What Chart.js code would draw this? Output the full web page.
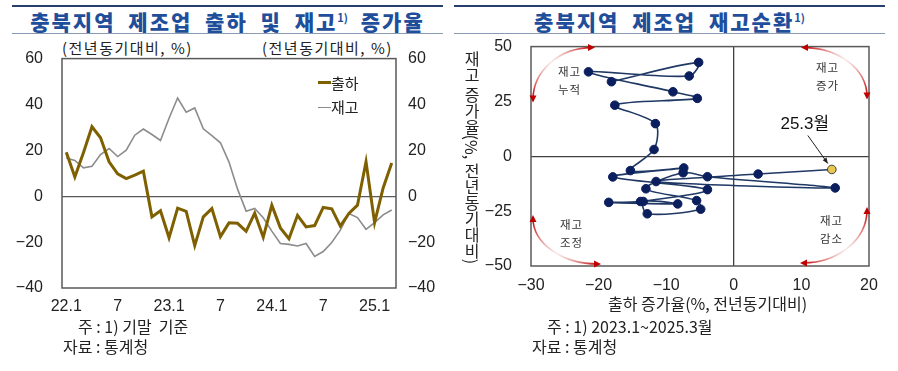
<!DOCTYPE html>
<html>
<head>
<meta charset="utf-8">
<script src="https://cdn.jsdelivr.net/npm/chart.js@4.4.1/dist/chart.umd.min.js"></script>
<style>
  body { margin: 0; width: 898px; height: 371px; background: #fff; position: relative; overflow: hidden;
         font-family: "Noto Sans CJK KR", "Liberation Sans", sans-serif; color: #222; }
  .abs { position: absolute; white-space: pre; }
  .rule { position: absolute; width: 431px; }
  .title { position: absolute; top: 3px; width: 431px; height: 28px; line-height: 28px; text-align: center;
           font-size: 21px; font-weight: 900; color: #1F4E9B; letter-spacing: 2px; word-spacing: 6px; white-space: nowrap; }
  .title sup { font-size: 11px; vertical-align: 8px; letter-spacing: 0; font-weight: 700; }
  .unit { font-size: 15px; top: 39px; line-height: 18px; letter-spacing: 1.5px; }
  .note { font-size: 16px; line-height: 20px; }
  .quad { font-size: 11.5px; line-height: 18px; color: #333; letter-spacing: 1px; text-align: center; }
  canvas { position: absolute; }
</style>
</head>
<body>

<div class="rule" style="left:12px;top:5px;border-top:2px solid #27406b"></div>
<div class="rule" style="left:12px;top:33px;border-top:1px solid #8a9bb5"></div>
<div class="rule" style="left:454px;top:5px;border-top:2px solid #27406b"></div>
<div class="rule" style="left:454px;top:33px;border-top:1px solid #8a9bb5"></div>

<div class="title" style="left:12px">충북지역 제조업 출하 및 재고<sup>1)</sup> 증가율</div>
<div class="title" style="left:454px">충북지역 제조업 재고순환<sup>1)</sup></div>

<div class="abs unit" style="left:62px">(전년동기대비, %)</div>
<div class="abs unit" style="left:262px">(전년동기대비, %)</div>

<!-- chart area of both canvases ends up 29px below the canvas top -->
<canvas id="lineChart" width="450" height="290" style="left:0;top:30px"></canvas>
<canvas id="cycleChart" width="448" height="302" style="left:450px;top:18px"></canvas>

<div class="abs" style="left:318px;top:73px;font-size:15px;line-height:20px"><span style="display:inline-block;width:13px;height:3px;background:#7F6000;vertical-align:5px"></span>출하</div>
<div class="abs" style="left:318px;top:97px;font-size:15px;line-height:20px"><span style="display:inline-block;width:13px;height:1.5px;background:#8C8C8C;vertical-align:5px"></span>재고</div>

<div class="abs note" style="left:78px;top:316px">주 : 1) 기말  기준</div>
<div class="abs note" style="left:63px;top:336px">자료 : 통계청</div>

<div class="abs" style="left:460px;top:51px;font-size:16px;writing-mode:vertical-rl;text-orientation:mixed">재고 증가율(%, 전년동기대비)</div>
<div class="abs note" style="left:608px;top:293px">출하 증가율(%, 전년동기대비)</div>
<div class="abs note" style="left:547px;top:316px">주 : 1) 2023.1~2025.3월</div>
<div class="abs note" style="left:532px;top:336px">자료 : 통계청</div>

<div class="abs quad" style="left:558px;top:62px">재고<br>누적</div>
<div class="abs quad" style="left:816px;top:58px">재고<br>증가</div>
<div class="abs quad" style="left:560px;top:215px">재고<br>조정</div>
<div class="abs quad" style="left:820px;top:211px">재고<br>감소</div>

<script>
// monthly periods, 2022.1 ~ 2025.3
const periods = [
  '22.1','22.2','22.3','22.4','22.5','22.6','22.7','22.8','22.9','22.10','22.11','22.12',
  '23.1','23.2','23.3','23.4','23.5','23.6','23.7','23.8','23.9','23.10','23.11','23.12',
  '24.1','24.2','24.3','24.4','24.5','24.6','24.7','24.8','24.9','24.10','24.11','24.12',
  '25.1','25.2','25.3'
];
// 출하 증가율 (%, 전년동기대비)
const shipment = [
  19.2, 8.4, 19.0, 30.3, 25.5, 15.0, 9.8, 7.7, 9.2, 10.9, -9.0, -6.3,
  -18.1, -5.2, -6.6, -21.5, -9.0, -5.4, -17.6, -11.6, -11.8, -15.3, -7.4, -17.9,
  -3.9, -13.8, -18.5, -8.3, -13.4, -12.8, -4.9, -5.5, -13.0, -7.5, -3.9, 15.0,
  -11.5, 3.6, 14.5
];
// 재고 증가율 (%, 전년동기대비)
const inventory = [
  16.7, 15.6, 12.4, 13.1, 18.2, 20.8, 17.3, 20.1, 26.6, 29.3, 26.9, 24.3,
  34.0, 42.8, 36.6, 38.5, 29.4, 26.4, 23.3, 14.9, 3.1, -6.5, -5.3, -9.4,
  -15.2, -20.6, -21.0, -21.7, -20.6, -26.2, -24.1, -20.2, -14.8, -7.5, -9.3, -14.4,
  -11.5, -8.1, -6.0
];
const lineTicks = [60, 40, 20, 0, -20, -40];
const cycleStart = '23.1';
const lastLabel = '25.3월';

Chart.defaults.font.family = '"Liberation Sans", "Noto Sans CJK KR", sans-serif';
Chart.defaults.color = '#222';

const minus = v => String(v).replace('-', '\u2212');

// plot frame around chart area
const framePlugin = {
  id: 'frame',
  afterDraw(chart) {
    const { ctx, chartArea: a } = chart;
    ctx.save();
    ctx.strokeStyle = '#595959';
    ctx.lineWidth = 1.5;
    ctx.strokeRect(a.left, a.top, a.right - a.left, a.bottom - a.top);
    ctx.restore();
  }
};

new Chart(document.getElementById('lineChart'), {
  type: 'line',
  data: {
    labels: periods,
    datasets: [
      { label: '출하', data: shipment, borderColor: '#7F6000', borderWidth: 3, pointRadius: 0, tension: 0 },
      { label: '재고', data: inventory, borderColor: '#8C8C8C', borderWidth: 1.6, pointRadius: 0, tension: 0 }
    ]
  },
  options: {
    responsive: false,
    animation: false,
    layout: { autoPadding: false, padding: 0 },
    plugins: { legend: { display: false }, tooltip: { enabled: false } },
    scales: {
      x: {
        offset: true,
        grid: { display: false, drawTicks: false },
        border: { display: false },
        ticks: {
          autoSkip: false, maxRotation: 0, padding: 9, font: { size: 16 },
          callback(v, i) {
            const p = periods[i];
            if (p.endsWith('.1')) return p;
            if (p.endsWith('.7')) return '7';
            return '';
          }
        },
        afterFit(s) { s.height = 32; }
      },
      y: {
        min: -40, max: 60,
        afterBuildTicks(s) { s.ticks = lineTicks.map(v => ({ value: v })); },
        ticks: { padding: 19, font: { size: 16 }, callback: minus },
        grid: { drawTicks: false, lineWidth: 1.3, color: c => c.tick && c.tick.value === 0 ? '#595959' : 'transparent' },
        border: { display: false },
        afterFit(s) { s.width = 62; }
      },
      y2: {
        position: 'right',
        min: -40, max: 60,
        afterBuildTicks(s) { s.ticks = lineTicks.map(v => ({ value: v })); },
        ticks: { padding: 12, font: { size: 16 }, callback: minus },
        grid: { display: false, drawTicks: false },
        border: { display: false },
        afterFit(s) { s.width = 54; }
      }
    }
  },
  plugins: [framePlugin]
});

// inventory cycle: 2023.1 ~ 2025.3
const from = periods.indexOf(cycleStart);
const cyclePoints = periods.slice(from).map((p, i) => ({ x: shipment[from + i], y: inventory[from + i] }));
const lastIdx = cyclePoints.length - 1;

function arcArrow(ctx, cx, cy, rx, ry, a0, a1) {
  const pt = a => [cx + rx * Math.cos(a), cy + ry * Math.sin(a)];
  const [x0, y0] = pt(a0), [x1, y1] = pt(a1);
  const g = ctx.createLinearGradient(x0, y0, x1, y1);
  g.addColorStop(0, '#C00000');
  g.addColorStop(0.5, 'rgba(235,170,170,0.25)');
  g.addColorStop(1, '#C00000');
  ctx.strokeStyle = g;
  ctx.lineWidth = 1.6;
  ctx.beginPath();
  ctx.ellipse(cx, cy, rx, ry, 0, a0, a1);
  ctx.stroke();
  ctx.fillStyle = '#C00000';
  [[a0, -1], [a1, 1]].forEach(([a, s]) => {
    const [px, py] = pt(a);
    let dx = -rx * Math.sin(a) * s, dy = ry * Math.cos(a) * s;
    const len = Math.hypot(dx, dy); dx /= len; dy /= len;
    ctx.beginPath();
    ctx.moveTo(px + dx * 3, py + dy * 3);
    ctx.lineTo(px - dx * 4 - dy * 3.5, py - dy * 4 + dx * 3.5);
    ctx.lineTo(px - dx * 4 + dy * 3.5, py - dy * 4 - dx * 3.5);
    ctx.closePath();
    ctx.fill();
  });
}

const cycleDecor = {
  id: 'cycleDecor',
  afterDraw(chart) {
    const { ctx, chartArea: a } = chart;
    const P = Math.PI;
    ctx.save();
    arcArrow(ctx, a.left + 61, a.top + 53, 59, 52, P, 1.5 * P);
    arcArrow(ctx, a.right - 65, a.top + 50, 63, 49, 1.5 * P, 2 * P);
    arcArrow(ctx, a.left + 67, a.bottom - 48, 65, 46, 0.5 * P, P);
    arcArrow(ctx, a.right - 66, a.bottom - 56, 64, 53, 0, 0.5 * P);

    // latest month callout
    const p = chart.getDatasetMeta(0).data[lastIdx];
    ctx.fillStyle = '#111';
    ctx.font = '17px "Liberation Sans", "Noto Sans CJK KR"';
    ctx.textAlign = 'center';
    ctx.textBaseline = 'middle';
    ctx.fillText(lastLabel, p.x - 27, p.y - 45);
    const sx = p.x - 24, sy = p.y - 34, ex = p.x - 4, ey = p.y - 6;
    ctx.strokeStyle = '#222';
    ctx.lineWidth = 1;
    ctx.beginPath(); ctx.moveTo(sx, sy); ctx.lineTo(ex, ey); ctx.stroke();
    const ang = Math.atan2(ey - sy, ex - sx);
    ctx.fillStyle = '#222';
    ctx.beginPath();
    ctx.moveTo(ex, ey);
    ctx.lineTo(ex - 6 * Math.cos(ang - 0.4), ey - 6 * Math.sin(ang - 0.4));
    ctx.lineTo(ex - 6 * Math.cos(ang + 0.4), ey - 6 * Math.sin(ang + 0.4));
    ctx.closePath(); ctx.fill();
    ctx.restore();
  }
};

new Chart(document.getElementById('cycleChart'), {
  type: 'scatter',
  data: {
    datasets: [{
      data: cyclePoints,
      showLine: true,
      tension: 0.3,
      borderColor: '#1F3864',
      borderWidth: 1.6,
      pointRadius: 4.3,
      pointBackgroundColor: cyclePoints.map((d, i) => i === lastIdx ? '#E8C650' : '#0B1F5E'),
      pointBorderColor: cyclePoints.map((d, i) => i === lastIdx ? '#3a3a3a' : '#0B1F5E'),
      pointBorderWidth: 1
    }]
  },
  options: {
    responsive: false,
    animation: false,
    layout: { autoPadding: false, padding: { top: 0, right: 29, bottom: 0, left: 0 } },
    plugins: { legend: { display: false }, tooltip: { enabled: false } },
    scales: {
      x: {
        min: -30, max: 20,
        ticks: { stepSize: 10, padding: 10, font: { size: 16 }, callback: minus },
        grid: { drawTicks: false, lineWidth: 1.3, color: c => c.tick && c.tick.value === 0 ? '#404040' : 'transparent' },
        border: { display: false },
        afterFit(s) { s.height = 54; }
      },
      y: {
        min: -50, max: 50,
        ticks: { stepSize: 25, padding: 19, font: { size: 16 }, callback: minus },
        grid: { drawTicks: false, lineWidth: 1.3, color: c => c.tick && c.tick.value === 0 ? '#404040' : 'transparent' },
        border: { display: false },
        afterFit(s) { s.width = 81; }
      }
    }
  },
  plugins: [framePlugin, cycleDecor]
});
</script>
</body>
</html>
